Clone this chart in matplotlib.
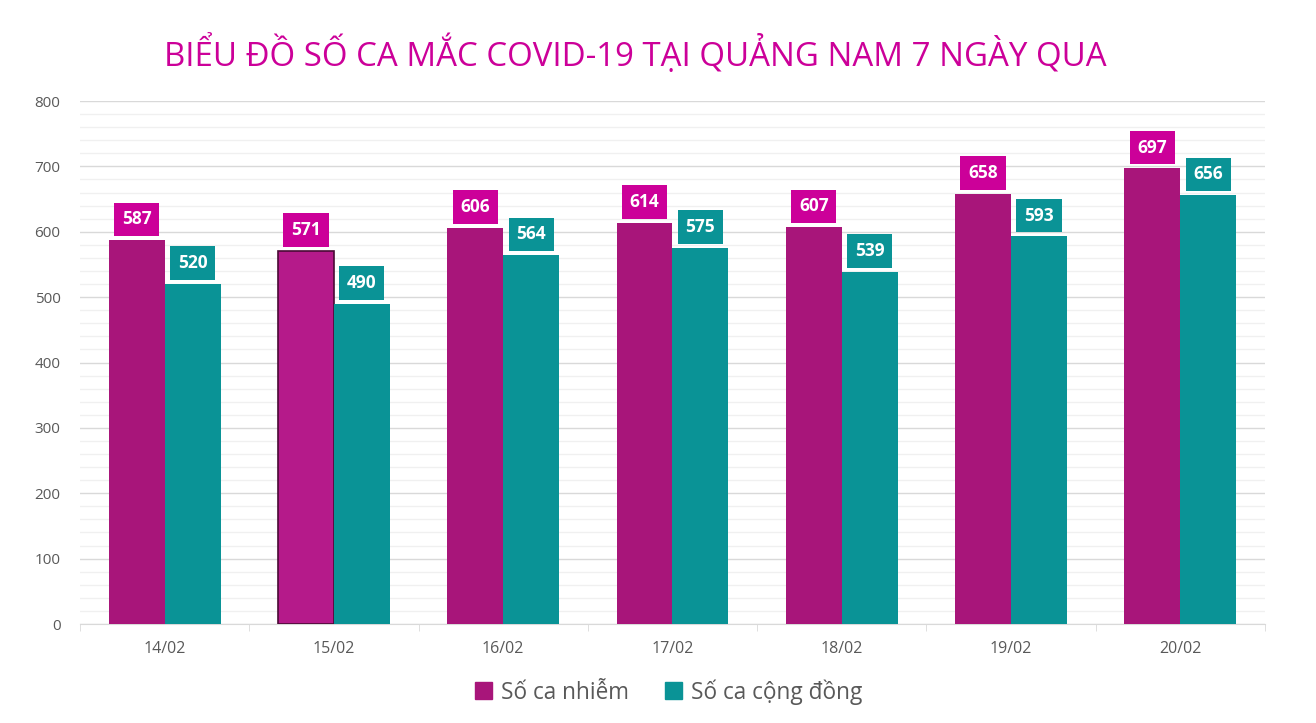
import numpy as np
import matplotlib.pyplot as plt
from matplotlib.patches import Patch

# chart data
dates = ['14/02', '15/02', '16/02', '17/02', '18/02', '19/02', '20/02']
so_ca_nhiem = [587, 571, 606, 614, 607, 658, 697]
so_ca_cong_dong = [520, 490, 564, 575, 539, 593, 656]

PURPLE = '#A8157A'
TEAL = '#0A9396'
LABEL_PURPLE = '#CC0099'
GREY_TXT = '#595959'

plt.rcParams['font.family'] = ['Open Sans', 'DejaVu Sans']

fig = plt.figure(figsize=(13.16, 7.23), dpi=100)
ax = fig.add_axes([0.0608, 0.1369, 0.9004, 0.7234])

x = np.arange(len(dates))
w = 0.33

bars1 = ax.bar(x - w / 2, so_ca_nhiem, w, color=PURPLE, zorder=3)
bars2 = ax.bar(x + w / 2, so_ca_cong_dong, w, color=TEAL, zorder=3)

# 15/02 bar is highlighted in the original
bars1[1].set_facecolor('#B51A8A')
bars1[1].set_edgecolor('#4A0A35')
bars1[1].set_linewidth(1.2)

for bars, col in [(bars1, LABEL_PURPLE), (bars2, TEAL)]:
    for b in bars:
        h = b.get_height()
        ax.annotate(str(int(h)), (b.get_x() + b.get_width() / 2, h),
                    xytext=(0, 15), textcoords='offset points',
                    ha='center', va='center', color='white',
                    fontsize=12.5, fontweight='bold', zorder=5,
                    bbox=dict(boxstyle='square,pad=0.45', fc=col, ec='none'))

ax.set_ylim(0, 800)
ax.set_xlim(-0.5, len(dates) - 0.5)
ax.set_yticks(range(0, 801, 100))
ax.set_yticks(range(0, 801, 20), minor=True)
ax.yaxis.grid(True, which='major', color='#D9D9D9', lw=1, zorder=0)
ax.yaxis.grid(True, which='minor', color='#F0F0F0', lw=1, zorder=0)
ax.tick_params(axis='y', which='both', length=0, colors=GREY_TXT, labelsize=11, pad=14)

ax.set_xticks(x)
ax.set_xticklabels(dates)
ax.tick_params(axis='x', which='major', length=0, colors=GREY_TXT, labelsize=11.5, pad=12)
ax.set_xticks(np.arange(-0.5, len(dates)), minor=True)
ax.tick_params(axis='x', which='minor', length=5, color='#D9D9D9')

for s in ['top', 'right', 'left']:
    ax.spines[s].set_visible(False)
ax.spines['bottom'].set_color('#D9D9D9')

fig.text(0.4825, 0.925, 'BIỂU ĐỒ SỐ CA MẮC COVID-19 TẠI QUẢNG NAM 7 NGÀY QUA',
         ha='center', va='center', color=LABEL_PURPLE, fontsize=23.8)

handles = [Patch(color=PURPLE), Patch(color=TEAL)]
fig.legend(handles, ['Số ca nhiễm', 'Số ca cộng đồng'], loc='center',
           bbox_to_anchor=(0.508, 0.043), ncol=2, frameon=False,
           fontsize=16.3, labelcolor=GREY_TXT, handlelength=0.75, handleheight=0.75,
           handletextpad=0.4, columnspacing=1.6)

fig.savefig('out.png', dpi=100)
